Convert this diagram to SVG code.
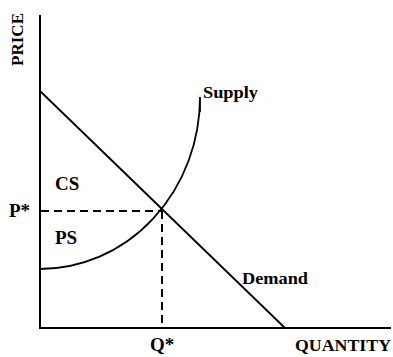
<svg xmlns="http://www.w3.org/2000/svg" width="393" height="357" viewBox="0 0 393 357">
<style>
.ax{stroke:#000;stroke-width:2;fill:none}
.cv{stroke:#000;stroke-width:1.8;fill:none}
.ds{stroke:#000;stroke-width:2;fill:none;stroke-dasharray:8,5}
.lb{font-family:"Liberation Serif","Times New Roman",serif;font-weight:bold;font-size:17px;fill:#000}
.sm{font-size:19px}
</style>
<rect width="393" height="357" fill="#fff"/>
<g id="axes">
<line class="ax" x1="40" y1="15" x2="40" y2="329"/>
<line class="ax" x1="39" y1="328" x2="391" y2="328"/>
</g>
<g id="curves">
<line id="demand" class="cv" x1="40" y1="91" x2="285" y2="328"/>
<path id="supply" class="cv" d="M40 269 A160 172 0 0 0 200 97 L200 112"/>
</g>
<g id="dashes">
<line class="ds" x1="41" y1="211" x2="162" y2="211"/>
<line class="ds" x1="162" y1="211" x2="162" y2="328"/>
</g>
<g id="labels">
<text class="lb" transform="translate(23,66) rotate(-90)" textLength="53" lengthAdjust="spacingAndGlyphs">PRICE</text>
<text class="lb sm" x="9" y="217">P*</text>
<text class="lb sm" x="55" y="190">CS</text>
<text class="lb sm" x="55" y="244">PS</text>
<text class="lb" x="203" y="98" textLength="55" lengthAdjust="spacingAndGlyphs">Supply</text>
<text class="lb" x="242" y="284" textLength="66" lengthAdjust="spacingAndGlyphs" style="font-weight:600">Demand</text>
<text class="lb sm" x="150" y="351">Q*</text>
<text class="lb" x="295" y="351" textLength="96" lengthAdjust="spacingAndGlyphs">QUANTITY</text>
</g>
</svg>
